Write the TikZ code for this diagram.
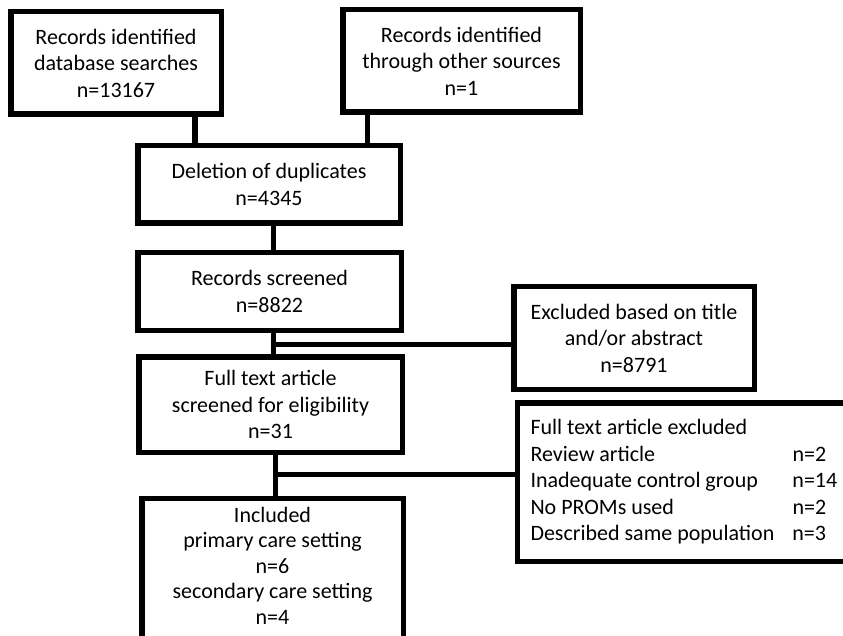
\documentclass[tikz,border=0pt]{standalone}
\usepackage{fontspec}
\setmainfont{Carlito}
\usetikzlibrary{positioning}
\tikzstyle{box} = [rectangle, draw, line width=5.5pt, align=center, inner sep=0pt, font=\fontsize{22}{26.5}\selectfont]
\tikzstyle{line} = [line width=5.5pt]

\begin{document}
\begin{tikzpicture}[x=1pt, y=-1pt]
        \useasboundingbox (0,0) rectangle (843,636);
        \clip (0,0) rectangle (843,636);

        % Boxes
        \node (database) [box, minimum width=210.5pt, minimum height=102.5pt] at (116,63) {Records identified\\database searches\\n=13167};
        \node (other) [box, minimum width=237.5pt, minimum height=102.5pt] at (461.5,61) {Records identified\\through other sources\\n=1};
        \node (duplicates) [box, minimum width=262.5pt, minimum height=77.5pt] at (269,184.5) {Deletion of duplicates\\n=4345};
        \node (screened) [box, minimum width=263.5pt, minimum height=77.5pt] at (269.5,291.5) {Records screened\\n=8822};
        \node (excltitle) [box, minimum width=240.5pt, minimum height=102.5pt] at (634,338) {Excluded based on title\\and/or abstract\\n=8791};
        \node (fulltext) [box, minimum width=263.5pt, minimum height=95.5pt] at (270.5,404.5) {Full text article\\screened for eligibility\\n=31};
        \node (included) [box, anchor=north, minimum width=261.5pt, minimum height=170pt, text depth=36pt, font=\fontsize{22}{25.5}\selectfont] at (272.5,495.75) {Included\\primary care setting\\n=6\\secondary care setting\\n=4};
        \node (exclfull) [box, anchor=west, align=flush left, text width=330pt, inner xsep=13pt, minimum height=158.5pt] at (514.75,482) {Full text article excluded\\
            \makebox[262pt][l]{Review article}n=2\\
            \makebox[262pt][l]{Inadequate control group}n=14\\
            \makebox[262pt][l]{No PROMs used}n=2\\
            \makebox[262pt][l]{Described same population}n=3};

        % Junctions
        \coordinate (split1) at (273.5,344.5);
        \coordinate (split2) at (275.5,474.5);

        % Lines
        \draw [line] ([xshift=-29.25pt]database.south east) -- ([xshift=-29.25pt]database.south east |- duplicates.north);
        \draw [line] ([xshift=27.25pt]other.south west) -- ([xshift=27.25pt]other.south west |- duplicates.north);
        \draw [line] (split1 |- duplicates.south) -- (split1 |- screened.north);
        \draw [line] (split1 |- screened.south) -- (split1 |- fulltext.north);
        \draw [line] (split1) -- (split1 -| excltitle.west);
        \draw [line] (split2 |- fulltext.south) -- (split2 |- included.north);
        \draw [line] (split2) -- (split2 -| exclfull.west);
    \end{tikzpicture}
\end{document}
